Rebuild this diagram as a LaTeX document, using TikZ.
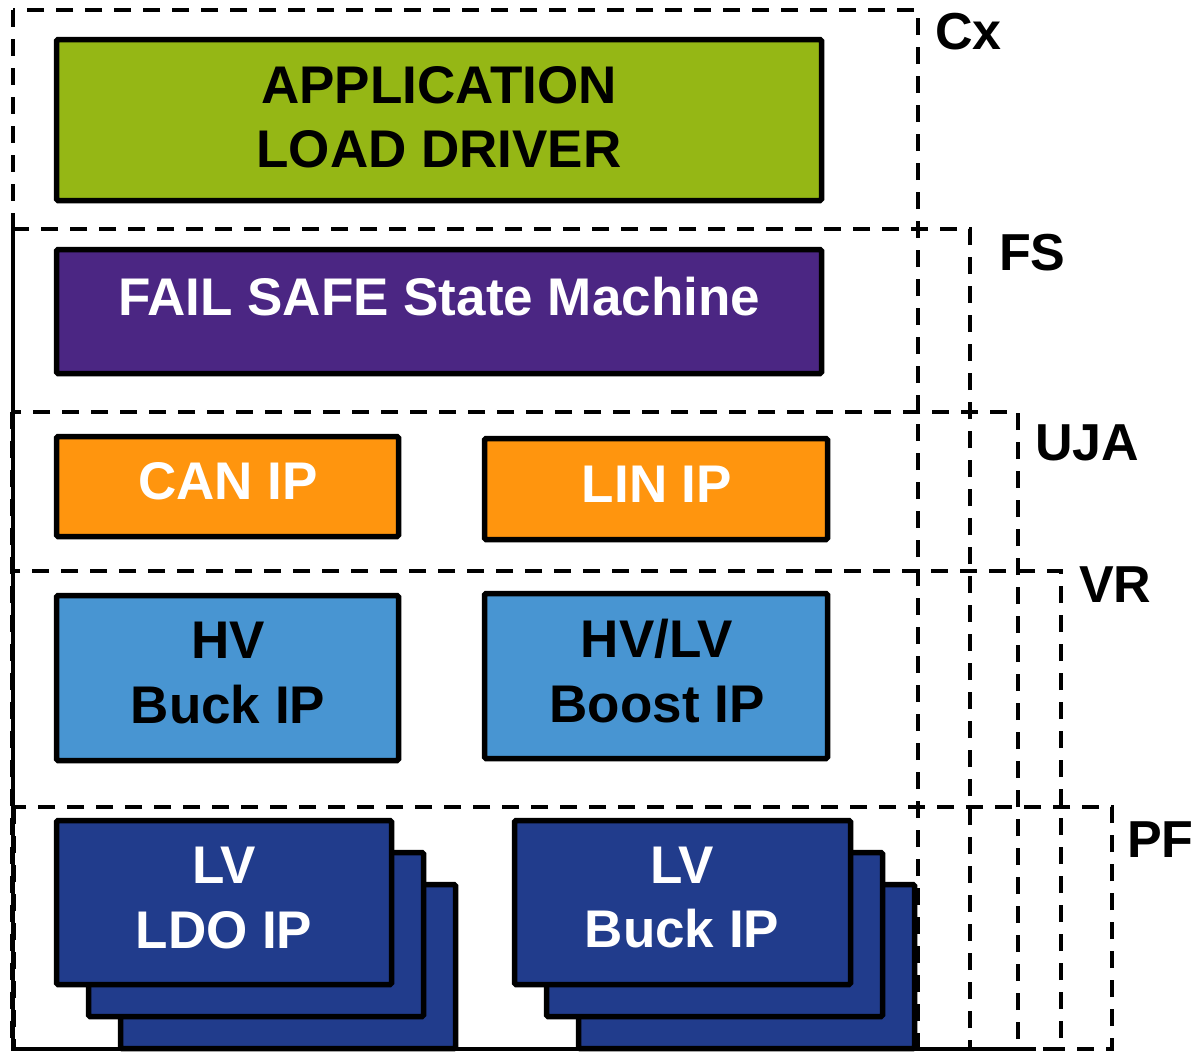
\documentclass[tikz,border=0pt]{standalone}
\usepackage{fontspec}
\setmainfont{Liberation Sans}
\begin{document}
\begin{tikzpicture}[x=1pt,y=-1pt,
  frame/.style={draw=black, line width=3.5pt, dash pattern=on 17pt off 12pt},
  ipbox/.style={draw=black, line width=5.5pt, rounded corners=1.5pt, inner sep=0pt},
  txt/.style={anchor=base, inner sep=0pt, font=\fontsize{53}{64}\selectfont\bfseries},
  tag/.style={anchor=base west, inner sep=0pt, font=\fontsize{52}{62}\selectfont\bfseries}]
\definecolor{appgreen}{RGB}{149,183,21}
\definecolor{fspurple}{RGB}{75,38,131}
\definecolor{comorange}{RGB}{255,149,14}
\definecolor{hvblue}{RGB}{72,149,210}
\definecolor{lvblue}{RGB}{33,60,140}
\useasboundingbox (0,0) rectangle (1193,1053);
\begin{scope}
\clip (0,0) rectangle (1193,1053);

% nested layer frames
\draw[frame] (13,10) rectangle (918,1049);
\draw[frame] (13,229) rectangle (970,1049);
\draw[frame] (12,412) rectangle (1018,1049);
\draw[frame] (13,571) rectangle (1061,1049);
\draw[frame] (14,807) rectangle (1112,1049);

% layer tags
\node[tag] (tcx) at (935,49) {Cx};
\node[tag] (tfs) at (999,270) {FS};
\node[tag] (tuja) at (1035,460) {UJA};
\node[tag] (tvr) at (1079,602) {VR};
\node[tag] (tpf) at (1127,857) {PF};

% application layer
\node[ipbox, fill=appgreen, minimum width=765pt, minimum height=161pt] (app) at (439,120) {};
\node[txt] (app1) at (439,103) {APPLICATION};
\node[txt] (app2) at (439,167) {LOAD DRIVER};

% fail safe layer
\node[ipbox, fill=fspurple, minimum width=765pt, minimum height=124pt] (fs) at (439,311.5) {};
\node[txt, text=white] (fst) at (439,315) {FAIL SAFE State Machine};

% communication IPs
\node[ipbox, fill=comorange, minimum width=342pt, minimum height=100pt] (can) at (227.5,486.5) {};
\node[txt, text=white] (cant) at (228,499) {CAN IP};
\node[ipbox, fill=comorange, minimum width=343pt, minimum height=101pt] (lin) at (656,489) {};
\node[txt, text=white] (lint) at (657,502) {LIN IP};

% voltage regulators
\node[ipbox, fill=hvblue, minimum width=342pt, minimum height=165pt] (hvb) at (227.5,678) {};
\node[txt] (hvb1) at (228,658) {HV};
\node[txt] (hvb2) at (228,723) {Buck IP};
\node[ipbox, fill=hvblue, minimum width=343pt, minimum height=165pt] (bst) at (656,676) {};
\node[txt] (bst1) at (657,657) {HV/LV};
\node[txt] (bst2) at (657,722) {Boost IP};

% platform: stacked LV IPs
\node[ipbox, fill=lvblue, minimum width=335pt, minimum height=164pt] (ldo3) at (288,966.5) {};
\node[ipbox, fill=lvblue, minimum width=335pt, minimum height=164pt] (ldo2) at (256,934.5) {};
\node[ipbox, fill=lvblue, minimum width=335pt, minimum height=164pt] (ldo) at (224,902.5) {};
\node[txt, text=white] (ldo1t) at (224,883) {LV};
\node[txt, text=white] (ldo2t) at (224,948) {LDO IP};

\node[ipbox, fill=lvblue, minimum width=336pt, minimum height=164pt] (lvb3) at (746.5,966.5) {};
\node[ipbox, fill=lvblue, minimum width=336pt, minimum height=164pt] (lvb2) at (714.5,934.5) {};
\node[ipbox, fill=lvblue, minimum width=336pt, minimum height=164pt] (lvb) at (682.5,902.5) {};
\node[txt, text=white] (lvb1t) at (682,883) {LV};
\node[txt, text=white] (lvb2t) at (682,947) {Buck IP};
\end{scope}
\end{tikzpicture}
\end{document}
